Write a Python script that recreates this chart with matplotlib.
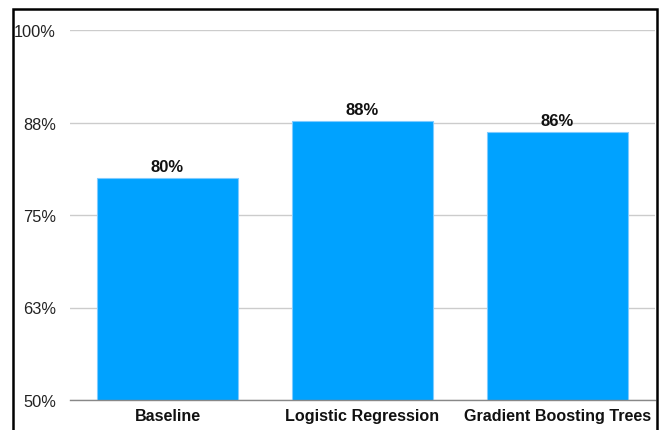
import matplotlib
matplotlib.use("Agg")
from matplotlib import pyplot as plt
from matplotlib.patches import Rectangle
import numpy as np

# model accuracy per approach
models = ["Baseline", "Logistic Regression", "Gradient Boosting Trees"]
accuracy = [0.800, 0.877, 0.862]
y_ticks = [0.50, 0.625, 0.75, 0.875, 1.00]
y_tick_labels = ["50%", "63%", "75%", "88%", "100%"]

plt.rcParams['font.family'] = ['Liberation Sans', 'DejaVu Sans']

fig = plt.figure(figsize=(6.65, 4.31), dpi=100)
ax = fig.add_axes([70/665, 1 - 401/431, 585/665, 370/431])

x = np.arange(len(models))
bars = ax.bar(x, accuracy, width=0.72, bottom=0, color='#00A2FF',
              edgecolor='#7FCBFF', linewidth=0.8, zorder=3)

for xi, v in zip(x, accuracy):
    ax.text(xi, v + 0.006, f"{v:.0%}", ha='center', va='bottom',
            fontsize=12, fontweight='bold', color='#111111', zorder=4)

ax.set_xlim(-0.5, 2.5)
ax.set_ylim(0.5, 1.0)
ax.set_yticks(y_ticks)
ax.set_yticklabels(y_tick_labels)
ax.set_xticks(x)
ax.set_xticklabels(models, fontweight='bold')
ax.tick_params(axis='y', length=0, pad=10, labelsize=11.8, labelcolor='#222222')
ax.tick_params(axis='x', length=0, pad=6, labelsize=11.6, labelcolor='#111111')

# light horizontal grid, darker base line
ax.yaxis.grid(True, color='#CCCCCC', linewidth=1, zorder=0)
ax.set_axisbelow(True)
for s in ['top', 'right', 'left']:
    ax.spines[s].set_visible(False)
ax.spines['bottom'].set_color('#888888')
ax.spines['bottom'].set_linewidth(1)
ax.spines['bottom'].set_zorder(5)

# black frame around the chart (bottom edge runs off the canvas)
frame = Rectangle((13/665, -0.1), 644/665, 1.1 - 10/431, transform=fig.transFigure,
                  fill=False, edgecolor='black', linewidth=1.8, clip_on=False)
fig.patches.append(frame)

fig.savefig("out.png", dpi=100)
